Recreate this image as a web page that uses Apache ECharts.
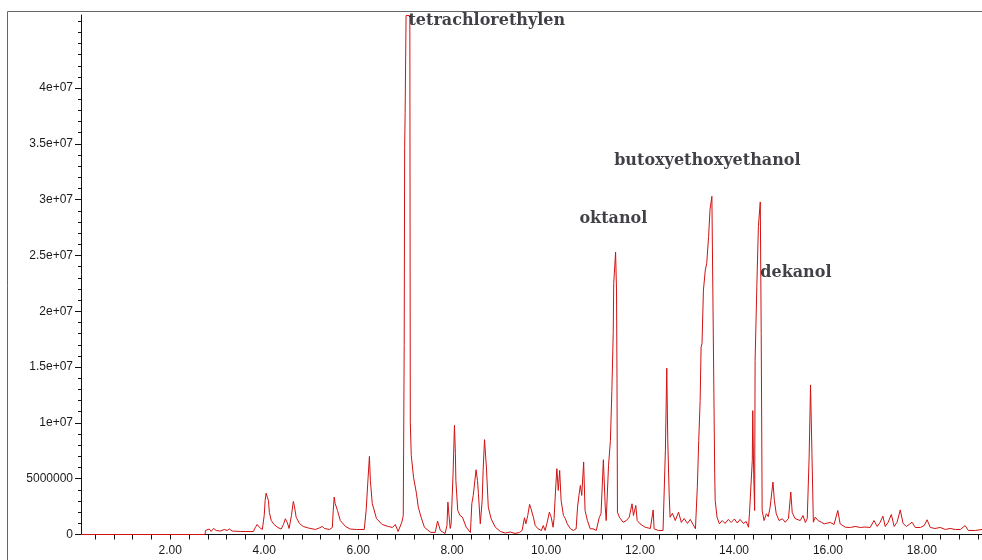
<!DOCTYPE html>
<html>
<head>
<meta charset="utf-8">
<title>TIC chromatogram</title>
<script src="https://cdn.jsdelivr.net/npm/echarts@6.0.0/dist/echarts.min.js"></script>
<style>
  html, body { margin: 0; padding: 0; background: #fff; }
  #chart { width: 982px; height: 560px; }
</style>
</head>
<body>
<div id="chart"></div>
<script>
// Retention time (min)
const retentionTime = [
  0.10, 2.74, 2.75, 2.79, 2.83, 2.87, 2.92, 2.98, 3.07, 3.15, 3.21, 3.26, 3.32, 3.49, 3.70,
  3.77, 3.81, 3.85, 3.90, 3.96, 4.00, 4.02, 4.04, 4.07, 4.09, 4.11, 4.15, 4.21, 4.28, 4.36,
  4.41, 4.45, 4.49, 4.53, 4.58, 4.62, 4.64, 4.68, 4.75, 4.83, 4.94, 5.09, 5.17, 5.24, 5.28,
  5.32, 5.39, 5.45, 5.47, 5.49, 5.51, 5.56, 5.62, 5.73, 5.83, 5.96, 6.13, 6.17, 6.21, 6.24,
  6.26, 6.30, 6.39, 6.51, 6.64, 6.73, 6.79, 6.85, 6.93, 6.96, 6.98, 6.99, 7.00, 7.02, 7.06,
  7.10, 7.11, 7.13, 7.18, 7.24, 7.28, 7.34, 7.41, 7.54, 7.64, 7.69, 7.75, 7.85, 7.89, 7.91,
  7.94, 7.96, 7.98, 8.02, 8.05, 8.07, 8.08, 8.12, 8.17, 8.22, 8.30, 8.39, 8.42, 8.45, 8.51,
  8.54, 8.56, 8.60, 8.64, 8.66, 8.69, 8.73, 8.77, 8.83, 8.92, 9.03, 9.13, 9.24, 9.34, 9.43,
  9.49, 9.54, 9.57, 9.61, 9.65, 9.68, 9.73, 9.77, 9.83, 9.90, 9.94, 9.98, 10.03, 10.07, 10.11,
  10.15, 10.17, 10.21, 10.23, 10.26, 10.29, 10.32, 10.37, 10.41, 10.45, 10.52, 10.58, 10.64, 10.67, 10.70,
  10.73, 10.76, 10.80, 10.83, 10.88, 10.94, 11.00, 11.07, 11.13, 11.17, 11.22, 11.26, 11.28, 11.33, 11.37,
  11.40, 11.43, 11.44, 11.48, 11.50, 11.51, 11.52, 11.56, 11.60, 11.64, 11.71, 11.77, 11.83, 11.86, 11.91,
  11.94, 12.00, 12.11, 12.22, 12.28, 12.30, 12.39, 12.49, 12.54, 12.57, 12.59, 12.62, 12.64, 12.69, 12.75,
  12.82, 12.88, 12.94, 13.01, 13.07, 13.13, 13.18, 13.22, 13.25, 13.28, 13.30, 13.32, 13.35, 13.39, 13.42,
  13.46, 13.49, 13.53, 13.57, 13.59, 13.60, 13.64, 13.69, 13.75, 13.81, 13.88, 13.94, 14.01, 14.07, 14.13,
  14.20, 14.26, 14.31, 14.33, 14.36, 14.39, 14.40, 14.42, 14.44, 14.45, 14.49, 14.52, 14.56, 14.58, 14.60,
  14.64, 14.69, 14.73, 14.77, 14.83, 14.86, 14.90, 14.96, 15.03, 15.09, 15.16, 15.21, 15.24, 15.30, 15.41,
  15.47, 15.52, 15.56, 15.60, 15.63, 15.66, 15.69, 15.73, 15.79, 15.86, 15.92, 15.96, 16.05, 16.13, 16.21,
  16.26, 16.37, 16.48, 16.58, 16.69, 16.79, 16.90, 16.98, 17.05, 17.11, 17.17, 17.22, 17.28, 17.35, 17.41,
  17.47, 17.54, 17.60, 17.67, 17.73, 17.79, 17.86, 17.97, 18.05, 18.11, 18.18, 18.28, 18.39, 18.50, 18.60,
  18.71, 18.82, 18.92, 18.99, 19.14, 19.28
];

// Abundance (millions of counts)
const abundanceM = [
  0, 0, 0.36, 0.27, 0.49, 0.27, 0.54, 0.36, 0.31, 0.45, 0.36, 0.49, 0.31, 0.27, 0.27,
  0.27, 0.63, 0.90, 0.63, 0.45, 1.70, 3.05, 3.70, 3.30, 3.05, 1.97, 1.25, 0.90, 0.65, 0.49,
  0.90, 1.41, 1.08, 0.54, 1.70, 2.96, 2.60, 1.55, 0.99, 0.72, 0.58, 0.45, 0.58, 0.72, 0.54,
  0.67, 0.45, 0.63, 2.15, 3.35, 2.78, 2.15, 1.25, 0.72, 0.49, 0.45, 0.45, 2.15, 5.00, 7.00,
  4.84, 2.78, 1.43, 0.90, 0.72, 0.63, 0.90, 0.27, 1.10, 1.70, 17.0, 34.7, 37.8, 46.5, 46.5,
  46.5, 10.1, 7.10, 5.10, 3.70, 2.45, 1.55, 0.65, 0.20, 0.18, 1.20, 0.36, 0.09, 0.80, 2.90,
  1.43, 0.54, 0.96, 5.44, 9.78, 7.24, 4.84, 2.15, 1.70, 1.55, 0.65, 0.18, 2.78, 3.50, 5.80,
  4.84, 3.68, 0.96, 3.05, 5.74, 8.50, 6.04, 2.45, 1.41, 0.65, 0.27, 0.13, 0.22, 0.09, 0.18,
  0.36, 1.50, 0.96, 1.70, 2.70, 2.30, 1.55, 0.80, 0.51, 0.36, 0.80, 0.36, 1.20, 2.00, 1.55,
  0.65, 1.43, 4.55, 5.90, 3.95, 5.74, 3.05, 1.70, 1.43, 0.96, 0.51, 0.36, 0.51, 2.45, 3.50,
  4.40, 3.50, 6.50, 2.15, 1.25, 0.51, 0.51, 0.36, 1.50, 1.86, 6.70, 2.45, 1.25, 6.20, 8.40,
  12.8, 18.1, 22.5, 25.3, 21.9, 14.0, 2.00, 1.55, 1.70, 1.10, 1.25, 1.55, 2.75, 1.70, 2.60,
  1.25, 0.96, 0.65, 0.54, 2.20, 0.51, 0.36, 0.36, 7.50, 14.9, 8.60, 3.70, 1.55, 1.90, 1.25,
  2.00, 1.08, 1.43, 0.99, 1.35, 0.90, 0.51, 4.24, 8.43, 12.0, 16.8, 17.1, 21.9, 23.7, 24.3,
  26.7, 29.1, 30.3, 30.4, 5.44, 3.05, 1.55, 0.96, 1.25, 0.99, 1.35, 1.08, 1.39, 1.03, 1.35,
  0.99, 1.17, 0.65, 1.86, 2.00, 6.64, 11.1, 5.44, 2.15, 15.6, 22.8, 27.6, 29.8, 18.0, 2.15,
  1.25, 1.86, 1.60, 2.45, 4.70, 3.05, 1.86, 1.25, 1.41, 1.10, 1.43, 3.80, 1.97, 1.43, 1.25,
  1.70, 1.08, 1.43, 6.93, 13.4, 7.24, 1.10, 1.55, 1.25, 1.10, 0.96, 0.80, 1.08, 0.90, 2.15,
  0.96, 0.65, 0.63, 0.72, 0.63, 0.67, 0.63, 1.25, 0.72, 1.08, 1.64, 0.72, 1.08, 1.79, 0.72,
  1.08, 2.20, 0.99, 0.72, 0.90, 1.10, 0.63, 0.63, 0.80, 1.32, 0.63, 0.54, 0.63, 0.45, 0.54,
  0.45, 0.45, 0.80, 0.36, 0.36, 0.45
];

// Axis ticks and labels
const xLabelValues = [2, 4, 6, 8, 10, 12, 14, 16, 18];
const xTickLabels = ['2.00', '4.00', '6.00', '8.00', '10.00', '12.00', '14.00', '16.00', '18.00'];
const yLabelValues = [0, 5e6, 1e7, 1.5e7, 2e7, 2.5e7, 3e7, 3.5e7, 4e7];
const yTickLabels = ['0', '5000000', '1e+07', '1.5e+07', '2e+07', '2.5e+07', '3e+07', '3.5e+07', '4e+07'];

// Compound names with the point where each name starts (min, counts)
const peakNames = ['tetrachlorethylen', 'oktanol', 'butoxyethoxyethanol', 'dekanol'];
const peakNameTime = [7.07, 10.71, 11.45, 14.56];
const peakNameLevel = [4.60e7, 2.83e7, 3.35e7, 2.345e7];

const X_MIN = 0.1, X_MAX = 19.28, Y_MAX = 4.655e7;

const xMinorTicks = [];
for (let t = 0.4; t < X_MAX; t += 0.4) xMinorTicks.push(Math.round(t * 10) / 10);
const yMinorTicks = [];
for (let v = 1e6; v <= Y_MAX; v += 1e6) yMinorTicks.push(v);

const tic = retentionTime.map((t, i) => [t, abundanceM[i] * 1e6]);
const names = peakNames.map((n, i) => ({ name: n, value: [peakNameTime[i], peakNameLevel[i]] }));

const axisLineStyle = { color: '#111', width: 1 };
const labelFont = { fontFamily: 'Liberation Sans, Arial, sans-serif', fontSize: 12, color: '#1a1a1a' };

const chart = echarts.init(document.getElementById('chart'), null, { renderer: 'canvas' });
chart.setOption({
  animation: false,
  backgroundColor: '#fff',
  grid: { left: 81, top: 15, right: 0, bottom: 25.5, containLabel: false },
  xAxis: [{
    type: 'value', min: X_MIN, max: X_MAX,
    splitLine: { show: false },
    axisLine: { show: true, onZero: false, lineStyle: axisLineStyle },
    axisTick: { show: true, inside: false, length: 5, customValues: xMinorTicks, lineStyle: axisLineStyle },
    axisLabel: Object.assign({
      show: true, margin: 10, customValues: xLabelValues,
      formatter: v => xTickLabels[xLabelValues.indexOf(v)] ?? ''
    }, labelFont)
  }],
  yAxis: [{
    type: 'value', min: 0, max: Y_MAX,
    splitLine: { show: false },
    axisLine: { show: true, lineStyle: axisLineStyle },
    axisTick: { show: true, length: 6, customValues: yLabelValues, lineStyle: axisLineStyle },
    axisLabel: Object.assign({
      show: true, margin: 8, customValues: yLabelValues,
      formatter: v => yTickLabels[yLabelValues.indexOf(v)] ?? ''
    }, labelFont)
  }, {
    type: 'value', min: 0, max: Y_MAX, position: 'left',
    splitLine: { show: false },
    axisLine: { show: false },
    axisTick: { show: true, length: 3, customValues: yMinorTicks, lineStyle: axisLineStyle },
    axisLabel: { show: false }
  }],
  series: [{
    type: 'line',
    data: tic,
    showSymbol: false,
    smooth: false,
    clip: true,
    lineStyle: { color: '#d01212', width: 1 },
    z: 3
  }, {
    type: 'scatter',
    data: names,
    symbolSize: 0,
    silent: true,
    z: 4,
    label: {
      show: true, position: 'right', distance: 0,
      formatter: p => p.name,
      fontFamily: 'DejaVu Serif, serif', fontWeight: 'bold', fontSize: 16, color: '#101018'
    }
  }],
  graphic: [
    { type: 'line', silent: true, shape: { x1: 7.5, y1: 11.5, x2: 7.5, y2: 560 }, style: { stroke: '#666', lineWidth: 1 } },
    { type: 'line', silent: true, shape: { x1: 7.5, y1: 11.5, x2: 982, y2: 11.5 }, style: { stroke: '#666', lineWidth: 1 } }
  ]
});
</script>
</body>
</html>
